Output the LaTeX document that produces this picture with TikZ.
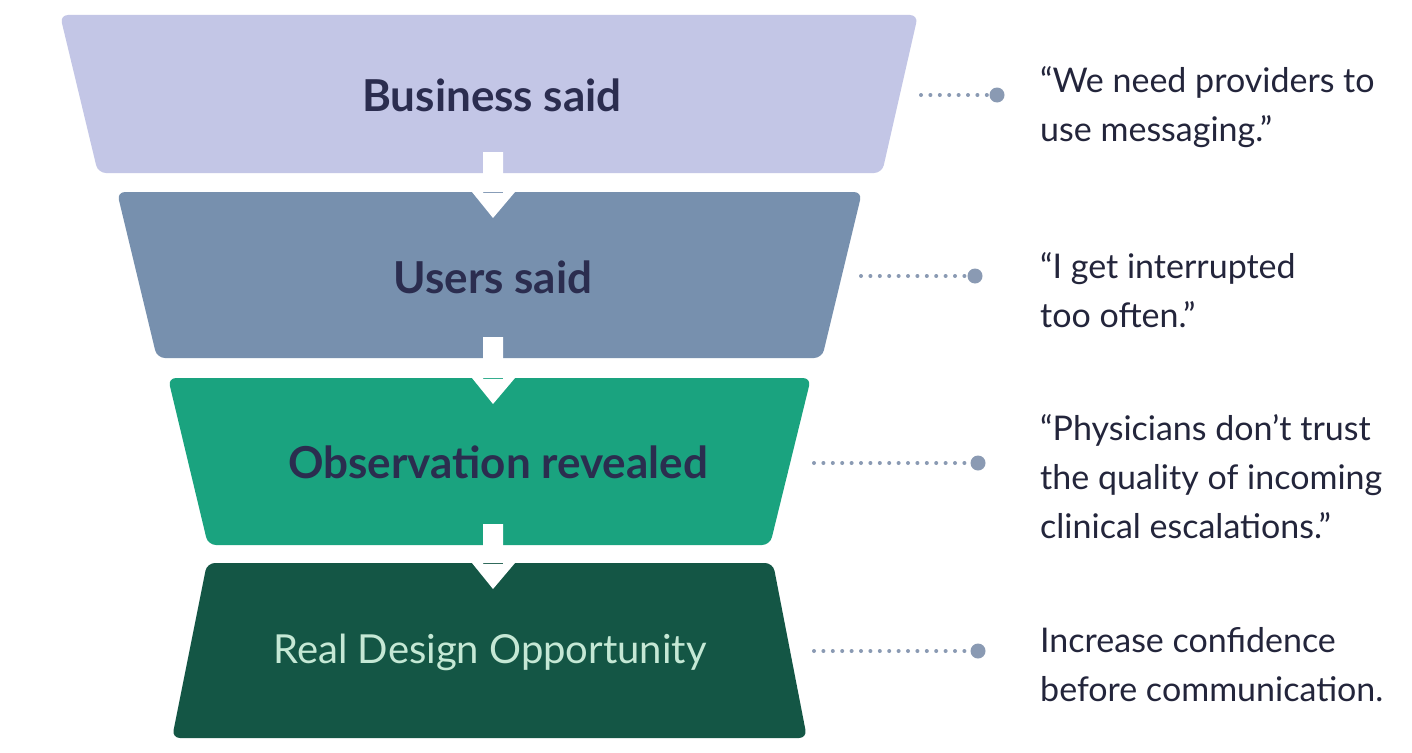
\documentclass[tikz,border=0pt]{standalone}
\usepackage{fontspec}
\setmainfont{Lato}
\definecolor{tA}{HTML}{C3C6E6}
\definecolor{tB}{HTML}{7790AE}
\definecolor{tC}{HTML}{1AA37F}
\definecolor{tD}{HTML}{145645}
\definecolor{labdark}{HTML}{2B2D4F}
\definecolor{lablight}{HTML}{C5E8D5}
\definecolor{quote}{HTML}{23253B}
\definecolor{dotc}{HTML}{8A9AB3}
\begin{document}
\begin{tikzpicture}[x=1pt,y=-1pt,
  stage/.style={rounded corners=8pt},
  stagelabel/.style={font=\fontsize{44}{52}\selectfont\bfseries, text=labdark, inner sep=0pt},
  quotetext/.style={font=\fontsize{34}{49}\selectfont, text=quote, align=left, anchor=west, inner sep=0pt},
  dotline/.style={draw=dotc, line width=4pt, line cap=round, dash pattern=on 0pt off 9.4pt},
  enddot/.style={circle, fill=dotc, minimum size=15pt, inner sep=0pt},
  flowarrow/.style={fill=white, draw=none}]
\useasboundingbox (0,0) rectangle (1412,752);
\fill[white] (0,0) rectangle (1412,752);
% stages
\fill[tA,stage] (60,15) -- (918,15) -- (882,173) -- (98,173) -- cycle;
\fill[tB,stage] (117,192) -- (862,192) -- (822,358) -- (157,358) -- cycle;
\fill[tC,stage] (168,378) -- (811,378) -- (770,545) -- (208,545) -- cycle;
\fill[tD,stage] (207,563) -- (773,563) -- (807,738) -- (172,738) -- cycle;
% arrows
\fill[flowarrow] (483,152) rectangle (503,193) (472,192) -- (515,192) -- (493,218) -- cycle;
\fill[flowarrow] (483,337) rectangle (503,379) (472,378) -- (515,378) -- (493,404) -- cycle;
\fill[flowarrow] (483,524) rectangle (503,564) (472,563) -- (515,563) -- (493,589) -- cycle;
% stage labels
\node[stagelabel] (s1) at (492,95) {Business said};
\node[stagelabel] (s2) at (493,277) {Users said};
\node[stagelabel] (s3) at (498,462) {Observation revealed};
\node[stagelabel, font=\fontsize{40}{48}\selectfont, text=lablight] (s4) at (490,652) {Real Design Opportunity};
% connectors
\coordinate (e1) at (921,95);
\coordinate (e2) at (861,276);
\coordinate (e3) at (814,463);
\coordinate (e4) at (814,651);
\node[enddot] (d1) at (997,95) {};
\node[enddot] (d2) at (975,276) {};
\node[enddot] (d3) at (978,463) {};
\node[enddot] (d4) at (978,651) {};
\draw[dotline] (e1) -- (d1);
\draw[dotline] (e2) -- (d2);
\draw[dotline] (e3) -- (d3);
\draw[dotline] (e4) -- (d4);
% quotes
\node[quotetext] (q1) at (1040,107) {“We need providers to\\use messaging.”};
\node[quotetext] (q2) at (1040,290) {“I get interrupted\\too often.”};
\node[quotetext] (q3) at (1040,477) {“Physicians don’t trust\\the quality of incoming\\clinical escalations.”};
\node[quotetext] (q4) at (1040,665) {Increase confidence\\before communication.};
\end{tikzpicture}
\end{document}
